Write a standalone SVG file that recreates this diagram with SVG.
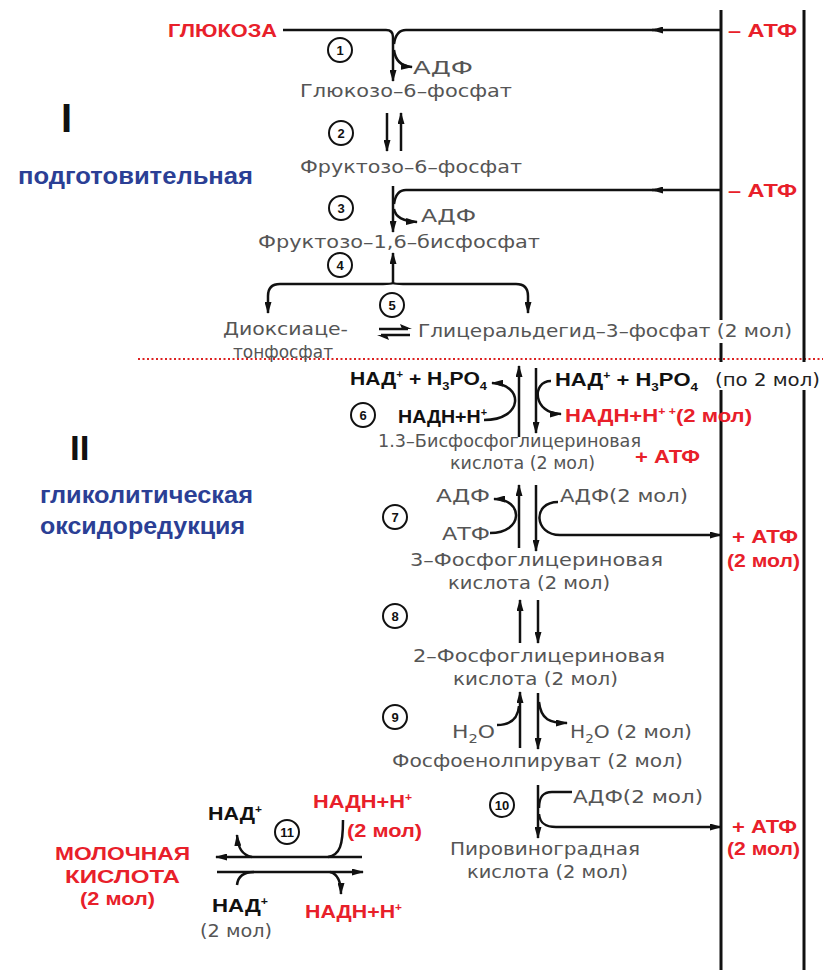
<svg xmlns="http://www.w3.org/2000/svg" width="823" height="970" viewBox="0 0 823 970">
<defs>
<style>
.g{font-family:"DejaVu Sans","Liberation Sans",sans-serif;font-size:18px;fill:#555}
.k{font-family:"Liberation Sans",Arial,sans-serif;font-weight:bold;font-size:18px;fill:#111}
.r{font-family:"Liberation Sans",Arial,sans-serif;font-weight:bold;font-size:18px;fill:#e8202a}
.b{font-family:"Liberation Sans",Arial,sans-serif;font-weight:bold;font-size:24px;fill:#2b3f95}
.rn{font-family:"Liberation Sans",Arial,sans-serif;font-weight:bold;fill:#111}
.ln{stroke:#111;stroke-width:2.5;fill:none}
.ar{marker-end:url(#a)}
.vl{stroke:#111;stroke-width:3;fill:none}
.num circle{fill:none;stroke:#111;stroke-width:2}
.num text{font-family:"Liberation Sans",Arial,sans-serif;font-weight:bold;font-size:13px;fill:#111;text-anchor:middle}
.hd{fill:#111}
</style>
<marker id="a" viewBox="0 0 12 7" refX="11" refY="3.5" markerWidth="12" markerHeight="7" markerUnits="userSpaceOnUse" orient="auto"><path d="M0,0 L12,3.5 L0,7 Z" fill="#111"/></marker>
</defs>
<rect width="823" height="970" fill="#fff"/>

<g id="stage1">
<text class="rn" x="61" y="132" font-size="40">I</text>
<text class="b" x="18" y="184" textLength="235" lengthAdjust="spacingAndGlyphs">подготовительная</text>
</g>
<g id="stage2">
<text class="rn" x="70" y="460" font-size="35">II</text>
<text class="b" x="40" y="503" textLength="213" lengthAdjust="spacingAndGlyphs">гликолитическая</text>
<text class="b" x="40" y="534" textLength="205" lengthAdjust="spacingAndGlyphs">оксидоредукция</text>
</g>

<line x1="138" y1="359" x2="823" y2="359" stroke="#d22" stroke-width="2" stroke-dasharray="2,2.5"/>

<g id="connectors">
<path class="vl" d="M721,10 V320 M721,343 V362 M721,390 V970"/>
<path class="vl" d="M804,10 V362 M804,390 V970"/>
<path class="ln ar" d="M283,30 H386 Q393,30 393,37 V81"/>
<path class="ln ar" d="M721,30 H652"/>
<path class="ln" d="M656,30 H406 Q396,30 394,44"/>
<path class="ln ar" d="M394,50 Q396,66 412,67"/>
<path class="ln ar" d="M387,113 V151"/>
<path class="ln ar" d="M401,151 V113"/>
<path class="ln ar" d="M393,186 V232"/>
<path class="ln ar" d="M721,190 H652"/>
<path class="ln" d="M656,190 H406 Q396,190 394,204"/>
<path class="ln ar" d="M394,209 Q396,221 417,222"/>
<path class="ln ar" d="M393,283 V253"/>
<path class="ln ar" d="M393,283 Q391,284 383,284 H280 Q268,284 268,296 V313"/>
<path class="ln ar" d="M393,283 Q395,284 403,284 H516 Q528,284 528,296 V313"/>
<path class="ln" d="M379,329 H408 M410,335 H381"/>
<polygon class="hd" points="412,329 400,324 402,329"/>
<polygon class="hd" points="377,335 389,340 387,335"/>
<path class="ln ar" d="M519,437 V366"/>
<path class="ln ar" d="M536,368 V433"/>
<path class="ln ar" d="M484,420 C524,420 524,384 492,383"/>
<path class="ln ar" d="M551,381 C531,381 533,414 561,414"/>
<path class="ln ar" d="M519,548 V485"/>
<path class="ln ar" d="M536,485 V551"/>
<path class="ln ar" d="M490,533 C524,533 524,499 494,499"/>
<path class="ln ar" d="M558,502 C532,502 534,535 560,535 H721"/>
<path class="ln ar" d="M520,643 V600"/>
<path class="ln ar" d="M538,600 V643"/>
<path class="ln ar" d="M520,748 V692"/>
<path class="ln ar" d="M538,693 V749"/>
<path class="ln" d="M497,725 C512,725 518,718 519,706"/>
<path class="ln ar" d="M539,702 C541,720 550,723 567,723"/>
<path class="ln ar" d="M538,785 V838"/>
<path class="ln" d="M572,792 H552 C542,792 539,798 539,808"/>
<path class="ln ar" d="M539,814 C540,824 546,827 556,827 H721"/>
<path class="ln ar" d="M362,857 H216"/>
<path class="ln ar" d="M217,872 H363"/>
<path class="ln ar" d="M252,857 C242,855 238,848 237,835"/>
<path class="ln" d="M343,820 C343,845 340,855 328,857"/>
<path class="ln" d="M237,885 C238,876 244,872 254,872"/>
<path class="ln ar" d="M330,872 C338,874 341,882 341,894"/>
</g>

<g id="n1" class="num"><circle cx="340" cy="50" r="12"/><text x="340" y="55">1</text></g>
<g id="n2" class="num"><circle cx="341" cy="133" r="12"/><text x="341" y="138">2</text></g>
<g id="n3" class="num"><circle cx="341" cy="208" r="12"/><text x="341" y="213">3</text></g>
<g id="n4" class="num"><circle cx="340" cy="265" r="12"/><text x="340" y="270">4</text></g>
<g id="n5" class="num"><circle cx="392" cy="305" r="12"/><text x="392" y="310">5</text></g>
<g id="n6" class="num"><circle cx="363" cy="415" r="12"/><text x="363" y="420">6</text></g>
<g id="n7" class="num"><circle cx="395" cy="517" r="12"/><text x="395" y="522">7</text></g>
<g id="n8" class="num"><circle cx="395" cy="616" r="12"/><text x="395" y="621">8</text></g>
<g id="n9" class="num"><circle cx="395" cy="717" r="12"/><text x="395" y="722">9</text></g>
<g id="n10" class="num"><circle cx="502" cy="805" r="12"/><text x="502" y="809.5" font-size="11">10</text></g>
<g id="n11" class="num"><circle cx="287" cy="832" r="12"/><text x="287" y="836.5" font-size="11">11</text></g>

<g id="glucose"><text class="r" x="168" y="37" font-size="19" textLength="109" lengthAdjust="spacingAndGlyphs">ГЛЮКОЗА</text></g>
<g id="atp1"><text class="r" x="728" y="37" textLength="69" lengthAdjust="spacingAndGlyphs">– АТФ</text></g>
<g id="adp1"><text class="g" x="413" y="74" textLength="60" lengthAdjust="spacingAndGlyphs">АДФ</text></g>
<g id="g6p"><text class="g" x="300" y="97" textLength="212" lengthAdjust="spacingAndGlyphs">Глюкозо–6–фосфат</text></g>
<g id="f6p"><text class="g" x="300" y="173" textLength="222" lengthAdjust="spacingAndGlyphs">Фруктозо–6–фосфат</text></g>
<g id="atp2"><text class="r" x="728" y="197" textLength="69" lengthAdjust="spacingAndGlyphs">– АТФ</text></g>
<g id="adp2"><text class="g" x="421" y="222" textLength="55" lengthAdjust="spacingAndGlyphs">АДФ</text></g>
<g id="f16bp"><text class="g" x="258" y="248" textLength="282" lengthAdjust="spacingAndGlyphs">Фруктозо–1,6–бисфосфат</text></g>
<g id="dhap"><text class="g" x="223" y="335" textLength="125" lengthAdjust="spacingAndGlyphs">Диоксиаце-</text><text class="g" x="233" y="358" textLength="100" lengthAdjust="spacingAndGlyphs">тонфосфат</text></g>
<g id="ga3p"><text class="g" x="418" y="337" textLength="374" lengthAdjust="spacingAndGlyphs">Глицеральдегид–3–фосфат (2 мол)</text></g>
<g id="nad6l"><text class="k" x="350" y="385" textLength="137" lengthAdjust="spacingAndGlyphs">НАД<tspan font-size="10" dy="-7">+</tspan><tspan dy="7"> + H</tspan><tspan font-size="11" dy="5">3</tspan><tspan dy="-5">PO</tspan><tspan font-size="11" dy="5">4</tspan></text></g>
<g id="nadh6l"><text class="k" x="398" y="423" textLength="89" lengthAdjust="spacingAndGlyphs">НАДН+Н<tspan font-size="10" dy="-7">+</tspan></text></g>
<g id="nad6r"><text class="k" x="555" y="386" textLength="143" lengthAdjust="spacingAndGlyphs">НАД<tspan font-size="10" dy="-7">+</tspan><tspan dy="7"> + H</tspan><tspan font-size="11" dy="5">3</tspan><tspan dy="-5">PO</tspan><tspan font-size="11" dy="5">4</tspan></text></g>
<g id="po2"><text class="g" x="715" y="386" style="fill:#222" textLength="105" lengthAdjust="spacingAndGlyphs">(по 2 мол)</text></g>
<g id="nadh6r"><text class="r" x="565" y="422" textLength="187" lengthAdjust="spacingAndGlyphs">НАДН+Н<tspan font-size="10" dy="-7">+ +</tspan><tspan dy="7">(2 мол)</tspan></text></g>
<g id="bpg"><text class="g" x="378" y="447" textLength="263" lengthAdjust="spacingAndGlyphs">1.3–Бисфосфоглицериновая</text><text class="g" x="450" y="469" textLength="145" lengthAdjust="spacingAndGlyphs">кислота (2 мол)</text></g>
<g id="atp6"><text class="r" x="635" y="463" textLength="65" lengthAdjust="spacingAndGlyphs">+ АТФ</text></g>
<g id="adp7l"><text class="g" x="436" y="502" textLength="54" lengthAdjust="spacingAndGlyphs">АДФ</text></g>
<g id="atp7l"><text class="g" x="442" y="540" textLength="48" lengthAdjust="spacingAndGlyphs">АТФ</text></g>
<g id="adp7r"><text class="g" x="560" y="502" textLength="128" lengthAdjust="spacingAndGlyphs">АДФ(2 мол)</text></g>
<g id="atp7"><text class="r" x="732" y="543" textLength="66" lengthAdjust="spacingAndGlyphs">+ АТФ</text><text class="r" x="727" y="567" textLength="73" lengthAdjust="spacingAndGlyphs">(2 мол)</text></g>
<g id="pg3"><text class="g" x="410" y="566" textLength="253" lengthAdjust="spacingAndGlyphs">3–Фосфоглицериновая</text><text class="g" x="448" y="589" textLength="162" lengthAdjust="spacingAndGlyphs">кислота (2 мол)</text></g>
<g id="pg2"><text class="g" x="413" y="662" textLength="252" lengthAdjust="spacingAndGlyphs">2–Фосфоглицериновая</text><text class="g" x="453" y="685" textLength="165" lengthAdjust="spacingAndGlyphs">кислота (2 мол)</text></g>
<g id="h2o9l"><text class="g" x="452" y="738" textLength="43" lengthAdjust="spacingAndGlyphs">H<tspan font-size="12" dy="5">2</tspan><tspan dy="-5">O</tspan></text></g>
<g id="h2o9r"><text class="g" x="570" y="738" textLength="122" lengthAdjust="spacingAndGlyphs">H<tspan font-size="12" dy="5">2</tspan><tspan dy="-5">O (2 мол)</tspan></text></g>
<g id="pep"><text class="g" x="392" y="767" textLength="291" lengthAdjust="spacingAndGlyphs">Фосфоенолпируват (2 мол)</text></g>
<g id="adp10"><text class="g" x="573" y="803" textLength="130" lengthAdjust="spacingAndGlyphs">АДФ(2 мол)</text></g>
<g id="atp10"><text class="r" x="732" y="833" textLength="65" lengthAdjust="spacingAndGlyphs">+ АТФ</text><text class="r" x="727" y="855" textLength="73" lengthAdjust="spacingAndGlyphs">(2 мол)</text></g>
<g id="pyr"><text class="g" x="450" y="855" textLength="190" lengthAdjust="spacingAndGlyphs">Пировиноградная</text><text class="g" x="467" y="878" textLength="161" lengthAdjust="spacingAndGlyphs">кислота (2 мол)</text></g>
<g id="lactate"><text class="r" x="55" y="860" textLength="135" lengthAdjust="spacingAndGlyphs">МОЛОЧНАЯ</text><text class="r" x="65" y="883" textLength="115" lengthAdjust="spacingAndGlyphs">КИСЛОТА</text><text class="r" x="80" y="905" font-size="16" textLength="75" lengthAdjust="spacingAndGlyphs">(2 мол)</text></g>
<g id="nad11t"><text class="k" x="208" y="820" textLength="54" lengthAdjust="spacingAndGlyphs">НАД<tspan font-size="10" dy="-7">+</tspan></text></g>
<g id="nadh11t"><text class="r" x="313" y="808" textLength="99" lengthAdjust="spacingAndGlyphs">НАДН+Н<tspan font-size="10" dy="-7">+</tspan></text><text class="r" x="347" y="837" textLength="75" lengthAdjust="spacingAndGlyphs">(2 мол)</text></g>
<g id="nad11b"><text class="k" x="212" y="912" textLength="56" lengthAdjust="spacingAndGlyphs">НАД<tspan font-size="10" dy="-7">+</tspan></text><text class="g" x="200" y="937" textLength="72" lengthAdjust="spacingAndGlyphs">(2 мол)</text></g>
<g id="nadh11b"><text class="r" x="305" y="918" textLength="97" lengthAdjust="spacingAndGlyphs">НАДН+Н<tspan font-size="10" dy="-7">+</tspan></text></g>
</svg>
